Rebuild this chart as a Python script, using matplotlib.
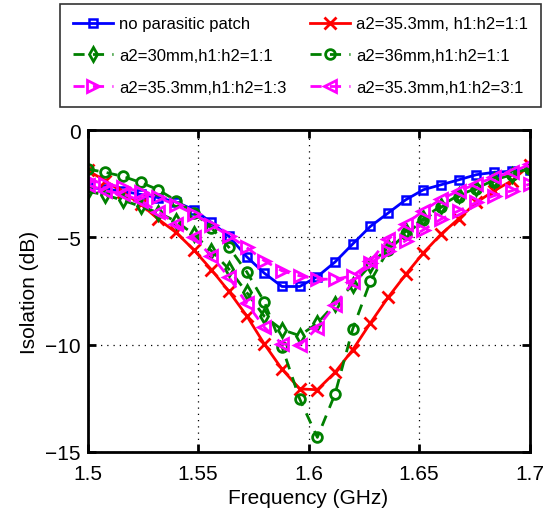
import matplotlib
matplotlib.use("Agg")
import matplotlib.pyplot as plt

plt.rcParams['font.family'] = ['Liberation Sans', 'DejaVu Sans']

# frequency points (GHz), 1.5 to 1.7 step 0.008
freq = [round(1.5 + 0.008 * k, 3) for k in range(26)]

no_patch = [-2.67, -2.75, -2.85, -3.0, -3.15, -3.35, -3.71, -4.3, -4.95, -5.9, -6.67, -7.29, -7.29,
            -6.83, -6.15, -5.31, -4.49, -3.87, -3.25, -2.78, -2.55, -2.32, -2.08, -1.97, -1.92, -1.87]
a353_11 = [-1.88, -2.36, -2.9, -3.45, -4.15, -4.77, -5.57, -6.5, -7.52, -8.65, -9.97, -11.14, -12.06,
           -12.1, -11.29, -10.24, -8.99, -7.8, -6.73, -5.72, -4.85, -4.13, -3.37, -2.83, -2.36, -1.65]
a30_11 = [-2.85, -3.03, -3.27, -3.56, -3.85, -4.25, -4.85, -5.62, -6.48, -7.56, -8.68, -9.3, -9.58,
          -9.0, -8.1, -7.2, -6.3, -5.45, -4.72, -4.12, -3.52, -3.03, -2.72, -2.33, -2.08, -1.77]
a36_11 = [-1.82, -1.97, -2.16, -2.44, -2.78, -3.29, -3.85, -4.55, -5.47, -6.6, -8.0, -10.1, -12.53,
          -14.32, -12.3, -9.27, -7.05, -5.6, -4.85, -4.2, -3.6, -3.1, -2.76, -2.4, -2.1, -1.8]
a353_13 = [-2.32, -2.5, -2.67, -2.87, -3.14, -3.5, -3.91, -4.42, -4.93, -5.47, -6.09, -6.56, -6.79,
           -6.94, -6.96, -6.79, -6.2, -5.65, -5.15, -4.65, -4.15, -3.76, -3.37, -3.06, -2.83, -2.52]
a353_31 = [-2.55, -2.83, -2.98, -3.29, -3.8, -4.38, -5.0, -5.86, -6.86, -8.07, -9.19, -9.97, -10.02,
           -9.22, -8.15, -7.1, -6.1, -5.1, -4.38, -3.76, -3.22, -2.83, -2.52, -2.2, -1.97, -1.6]

labels = ['no parasitic patch', 'a2=35.3mm, h1:h2=1:1', 'a2=30mm,h1:h2=1:1',
          'a2=36mm,h1:h2=1:1', 'a2=35.3mm,h1:h2=1:3', 'a2=35.3mm,h1:h2=3:1']

blue, red, green, mag = '#0000ff', '#ff0000', '#008000', '#ff00ff'

fig = plt.figure(figsize=(5.49, 5.10), dpi=100)
ax = fig.add_axes([0.1594, 0.1118, 0.8051, 0.6313])

dash = (4, 3)
h1, = ax.plot(freq, no_patch, color=blue, lw=2, marker='s', ms=6, mfc='none', mew=1.8, label=labels[0])
h2, = ax.plot(freq, a353_11, color=red, lw=2, marker='x', ms=9, mew=2, label=labels[1])
h3, = ax.plot(freq, a30_11, color=green, lw=2, ls='--', dashes=dash, marker='d', ms=7, mfc='none', mew=2, label=labels[2])
h4, = ax.plot(freq, a36_11, color=green, lw=2, ls='--', dashes=dash, marker='o', ms=7, mfc='none', mew=2, label=labels[3])
h5, = ax.plot(freq, a353_13, color=mag, lw=2, ls='--', dashes=dash, marker='>', ms=9, mfc='none', mew=2, label=labels[4])
h6, = ax.plot(freq, a353_31, color=mag, lw=2, ls='--', dashes=dash, marker='<', ms=9, mfc='none', mew=2, label=labels[5])

ax.set_xlim(1.5, 1.7)
ax.set_ylim(-15, 0)
ax.set_xticks([1.5, 1.55, 1.6, 1.65, 1.7])
ax.set_xticklabels(['1.5', '1.55', '1.6', '1.65', '1.7'])
ax.set_yticks([-15, -10, -5, 0])
ax.grid(True, color='k', ls=(0, (1, 4)), lw=0.9)
ax.tick_params(direction='in', top=True, right=True, length=6, width=2, labelsize=15)
ax.tick_params(axis='x', pad=9)
ax.tick_params(axis='y', pad=5)
for s in ax.spines.values():
    s.set_linewidth(2)
ax.set_xlabel('Frequency (GHz)', fontsize=15, labelpad=3)
ax.set_ylabel('Isolation (dB)', fontsize=15, labelpad=4)

# row-major legend order -> column-major handles
leg = ax.legend([h1, h3, h5, h2, h4, h6], [labels[0], labels[2], labels[4], labels[1], labels[3], labels[5]],
                ncol=2, loc='upper left', bbox_to_anchor=(60 / 549, 1 - 5 / 510, 481 / 549, 0),
                bbox_transform=fig.transFigure, mode='expand', fontsize=12, frameon=True, fancybox=False,
                edgecolor='k', handlelength=2.4, handletextpad=0.4, columnspacing=1.0, labelspacing=1.0,
                borderpad=0.75, borderaxespad=0)
leg.get_frame().set_linewidth(1.2)

fig.savefig('out.png', dpi=100)
